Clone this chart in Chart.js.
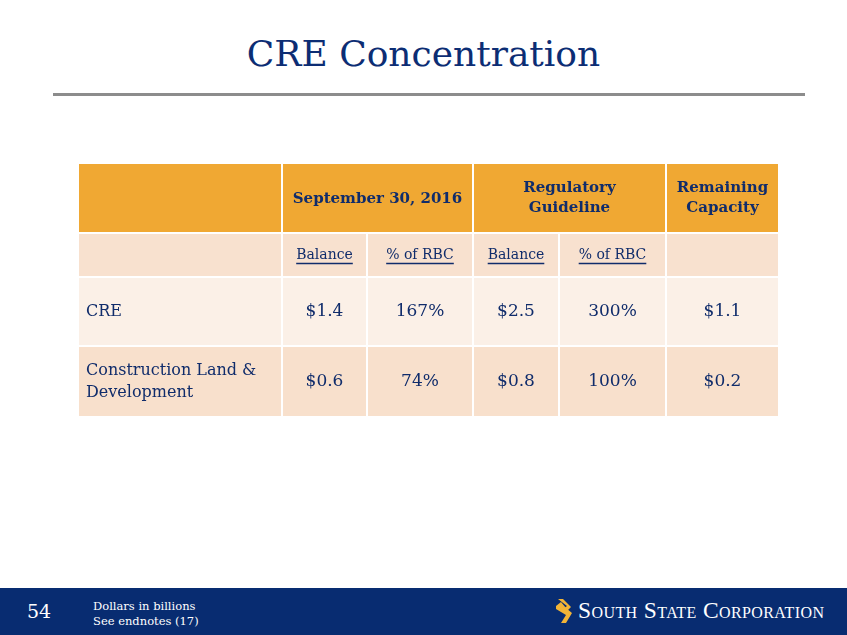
<!DOCTYPE html>
<html>
<head>
<meta charset="utf-8">
<script src="https://cdn.jsdelivr.net/npm/chart.js@4.4.0/dist/chart.umd.min.js"></script>
<style>
  html, body { margin: 0; padding: 0; background: #fff; }
  body { width: 847px; height: 635px; position: relative; overflow: hidden; font-family: "DejaVu Serif", serif; }
  #title { position: absolute; top: 29px; left: 0; width: 847px; text-align: center; color: #0c2d74; font-size: 36px; line-height: 50px; }
  #rule { position: absolute; top: 93px; left: 53px; width: 752px; height: 3px; background: #8c8c8c; }
  #chartWrap { position: absolute; left: 0; top: 0; width: 847px; height: 635px; }
  #footer { position: absolute; left: 0; top: 588px; width: 847px; height: 47px; background: #082c71; color: #fff; }
  #pageNo { position: absolute; left: 27px; top: 12px; font-size: 19px; }
  #notes { position: absolute; left: 93px; top: 11px; font-size: 11.5px; line-height: 15px; }
  #logo { position: absolute; left: 554px; top: 11px; }
  #logoText { position: absolute; left: 578px; top: 9px; font-family: "Liberation Serif", serif; font-variant: small-caps; font-size: 23.5px; letter-spacing: 0.4px; white-space: nowrap; }
</style>
</head>
<body>
<div id="title">CRE Concentration</div>
<div id="rule"></div>
<div id="chartWrap"><canvas id="tableChart" width="847" height="635"></canvas></div>
<div id="footer">
  <div id="pageNo">54</div>
  <div id="notes">Dollars in billions<br>See endnotes (17)</div>
  <svg id="logo" width="20" height="24" viewBox="0 0 20 24">
    <polygon points="4,0 9,0 17,8 12,13 9,10 13,7" fill="#f2b437"/>
    <polygon points="2,7 7,3 12,9 18,14 12,24 7,24 12,16 2,10" fill="#f2b437"/>
  </svg>
  <div id="logoText">South State Corporation</div>
</div>
<script>
// table contents
const groupHeaders = [['September 30, 2016'], ['Regulatory', 'Guideline'], ['Remaining', 'Capacity']];
const subHeaders = ['Balance', '% of RBC', 'Balance', '% of RBC'];
const rowLabels = [['CRE'], ['Construction Land &', 'Development']];
const sepBalance = [1.4, 0.6];
const sepPctRbc = [167, 74];
const regBalance = [2.5, 0.8];
const regPctRbc = [300, 100];
const remainingCap = [1.1, 0.2];

// layout (table units = px inside the table box)
const colEdges = [0, 204, 289, 395, 481, 588, 701];
const rowEdges = [0, 70, 114, 183, 254];
const rowFills = ['#f0a833', '#f8e1cf', '#fbf0e7', '#f8e0cc'];
const textColor = '#102c6b';

const money = v => '$' + v.toFixed(1);
const pct = v => v + '%';

const tablePlugin = {
    id: 'tableCells',
    afterDraw(chart) {
        const ctx = chart.ctx;
        const xs = chart.scales.x, ys = chart.scales.y;
        const px = v => xs.getPixelForValue(v);
        const py = v => ys.getPixelForValue(v);

        function cell(c0, c1, r, lines, opts) {
            const x0 = px(colEdges[c0]), x1 = px(colEdges[c1]);
            const y0 = py(rowEdges[r]), y1 = py(rowEdges[r + 1]);
            ctx.fillStyle = rowFills[r];
            ctx.fillRect(x0 + 1, y0 + 1, x1 - x0 - 2, y1 - y0 - 2);
            if (!lines) return;
            ctx.fillStyle = textColor;
            ctx.strokeStyle = textColor;
            ctx.font = opts.font;
            ctx.textBaseline = 'middle';
            ctx.textAlign = opts.align || 'center';
            const lh = opts.lh || 22;
            const cy = (y0 + y1) / 2 + (opts.dy || 0);
            const tx = opts.align === 'left' ? x0 + 8 : (x0 + x1) / 2;
            lines.forEach((t, i) => {
                const y = cy + (i - (lines.length - 1) / 2) * lh;
                ctx.fillText(t, tx, y);
                if (opts.underline) {
                    const w = ctx.measureText(t).width;
                    ctx.lineWidth = 1.3;
                    ctx.beginPath();
                    ctx.moveTo(tx - w / 2, Math.round(y + 8) + 0.5);
                    ctx.lineTo(tx + w / 2, Math.round(y + 8) + 0.5);
                    ctx.stroke();
                }
            });
        }

        ctx.save();
        // header row
        const hFont = 'bold 15px "DejaVu Serif"';
        cell(0, 1, 0, null);
        cell(1, 3, 0, groupHeaders[0], { font: hFont, dy: 1 });
        cell(3, 5, 0, groupHeaders[1], { font: hFont, lh: 20, dy: 0 });
        cell(5, 6, 0, groupHeaders[2], { font: hFont, lh: 20, dy: 0 });
        // sub header row
        cell(0, 1, 1, null);
        subHeaders.forEach((t, i) => cell(i + 1, i + 2, 1, [t], { font: '14px "DejaVu Serif"', underline: true, dy: 0 }));
        cell(5, 6, 1, null);
        // data rows
        rowLabels.forEach((lab, i) => {
            const r = i + 2;
            const vFont = '17px "DejaVu Serif"';
            cell(0, 1, r, lab, { font: '16px "DejaVu Serif"', align: 'left', lh: 22, dy: 0 });
            cell(1, 2, r, [money(sepBalance[i])], { font: vFont });
            cell(2, 3, r, [pct(sepPctRbc[i])], { font: vFont });
            cell(3, 4, r, [money(regBalance[i])], { font: vFont });
            cell(4, 5, r, [pct(regPctRbc[i])], { font: vFont });
            cell(5, 6, r, [money(remainingCap[i])], { font: vFont });
        });
        ctx.restore();
    }
};

new Chart(document.getElementById('tableChart').getContext('2d'), {
    type: 'scatter',
    data: { datasets: [{ data: [] }] },
    options: {
        responsive: false,
        animation: false,
        layout: { padding: { left: 78, top: 163, right: 68, bottom: 218 } },
        plugins: { legend: { display: false }, tooltip: { enabled: false } },
        scales: {
            x: { type: 'linear', min: colEdges[0], max: colEdges[colEdges.length - 1], display: false },
            y: { type: 'linear', min: rowEdges[0], max: rowEdges[rowEdges.length - 1], reverse: true, display: false }
        }
    },
    plugins: [tablePlugin]
});
</script>
</body>
</html>
